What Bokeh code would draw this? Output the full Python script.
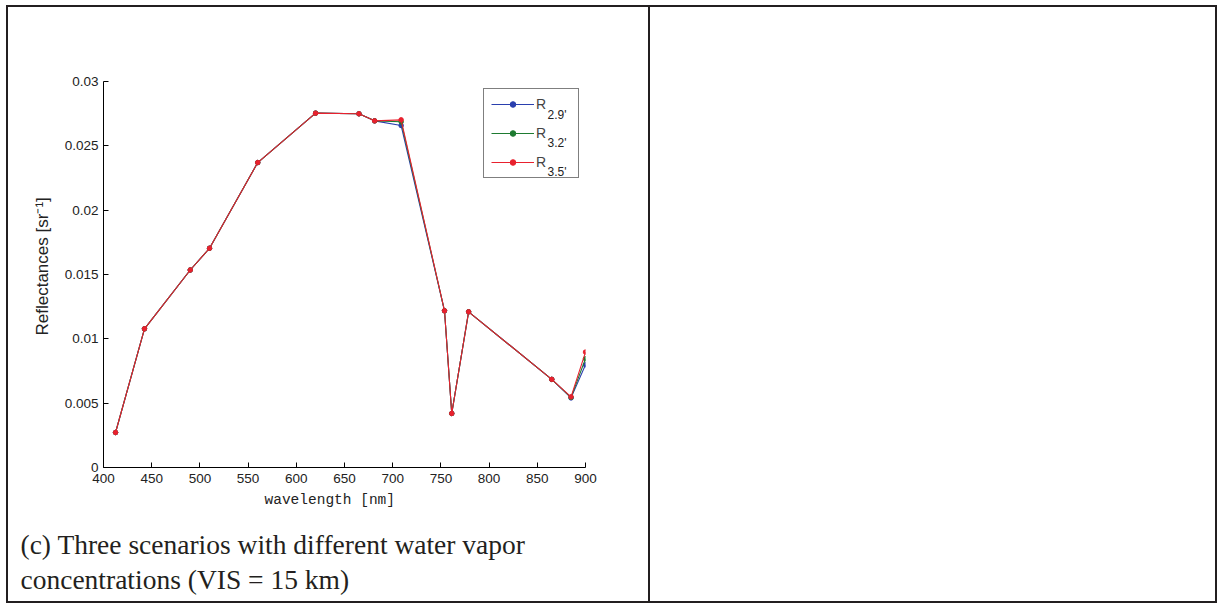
from bokeh.plotting import figure
from bokeh.models import (Range1d, FixedTicker, NumeralTickFormatter, Legend, LegendItem,
                          Label, Title)
from bokeh.embed import file_html
from bokeh.resources import INLINE

# MERIS band centres (nm)
wavelength = [412.5, 442.5, 490, 510, 560, 620, 665, 681.25, 708.75,
              753.75, 761.25, 778.75, 865, 885, 900]

# Simulated reflectances for three water vapour amounts
r_29 = [0.00272, 0.01078, 0.01535, 0.01704, 0.0237, 0.02754, 0.02749, 0.02694, 0.02658,
        0.01218, 0.0042, 0.0121, 0.00685, 0.00541, 0.00798]
r_32 = [0.00272, 0.01078, 0.01535, 0.01704, 0.0237, 0.02754, 0.02749, 0.02694, 0.02687,
        0.01218, 0.0042, 0.0121, 0.00685, 0.00545, 0.00845]
r_35 = [0.00272, 0.01078, 0.01535, 0.01704, 0.0237, 0.02754, 0.02749, 0.02694, 0.02702,
        0.01218, 0.0042, 0.0121, 0.00685, 0.00549, 0.00897]

series_values = [r_29, r_32, r_35]
series_subscripts = ["2.9'", "3.2'", "3.5'"]
series_colors = ["#2a3fae", "#1e7b31", "#e8212e"]

x_ticks = [400, 450, 500, 550, 600, 650, 700, 750, 800, 850, 900]
y_ticks = [0, 0.005, 0.01, 0.015, 0.02, 0.025, 0.03]

x_label = "wavelength [nm]"
y_label = "Reflectances [sr\u207b\u00b9]"
caption_lines = ["(c) Three scenarios with different water vapor",
                 "concentrations (VIS = 15 km)"]

W, H = 1218, 605
FL, FR, FT, FB = 103, 585, 81, 467   # plot frame edges on the page
INK = "#231f20"


def sx(cx):
    # page x -> frame-relative screen x
    return cx - FL


def sy(cy):
    # page y (downwards) -> frame-relative screen y (upwards)
    return FB - cy


def bar(x, y, w, h):
    return f"linear-gradient({INK},{INK}) {x}px {y}px / {w}px {h}px no-repeat"


# table cell rules painted as the page background behind a transparent canvas
table_bg = ", ".join([
    bar(6, 5, 1211, 2),      # top
    bar(6, 601, 1211, 2),    # bottom
    bar(6, 5, 2, 598),       # left
    bar(1215, 5, 2, 598),    # right
    bar(648, 5, 2, 598),     # cell divider
]) + ", #ffffff"

p = figure(width=W, height=H, output_backend="svg", toolbar_location=None,
           x_range=Range1d(400, 900), y_range=Range1d(0, 0.03),
           min_border_left=FL, min_border_right=W - FR,
           min_border_top=FT, min_border_bottom=H - FB,
           styles={"background": table_bg})
p.outline_line_color = None
p.grid.visible = False
p.background_fill_color = None
p.border_fill_color = None

for ax in (p.xaxis, p.yaxis):
    ax.axis_line_color = "black"
    ax.major_tick_line_color = "black"
    ax.major_tick_in = 5
    ax.major_tick_out = 0
    ax.minor_tick_line_color = None
    ax.major_label_text_font = "Liberation Sans"
    ax.major_label_text_font_size = "13.5px"
    ax.major_label_text_color = "#222222"

p.xaxis.ticker = FixedTicker(ticks=x_ticks)
p.yaxis.ticker = FixedTicker(ticks=y_ticks)
p.yaxis.formatter = NumeralTickFormatter(format="0.[000]")
p.xaxis.major_label_standoff = 6
p.yaxis.major_label_standoff = 5

# y axis title, set a little below the frame's centre
p.add_layout(Title(text=y_label, align="left", offset=132, standoff=20,
                   vertical_align="bottom", text_font="Liberation Sans",
                   text_font_size="17px", text_font_style="normal",
                   text_color="#222222"), "left")

# below the x axis: axis title, a spacer, then the two caption lines
p.add_layout(Title(text=x_label, align="left", offset=161, standoff=12,
                   vertical_align="top", text_font="Liberation Mono",
                   text_font_size="14.5px", text_font_style="normal",
                   text_color="#222222"), "below")
p.add_layout(Title(text=" ", align="left", offset=0, standoff=9,
                   text_font_size="1px"), "below")
for line, gap in zip(caption_lines, (2, 3)):
    p.add_layout(Title(text=line, align="left", offset=-83, standoff=gap,
                       vertical_align="top", text_font="Liberation Serif",
                       text_font_size="27.5px", text_font_style="normal",
                       text_color=INK), "below")

items = []
for vals, col in zip(series_values, series_colors):
    ln = p.line(wavelength, vals, line_color=col, line_width=1.1)
    sc = p.scatter(wavelength, vals, marker="circle", size=4.5,
                   fill_color=col, line_color=col)
    items.append(LegendItem(label="R", renderers=[ln, sc]))

legend = Legend(items=items, location=(sx(483), sy(178)),
                padding=7, spacing=13, glyph_width=43, glyph_height=14,
                label_height=14, label_width=35, label_standoff=2,
                label_text_font="Liberation Sans", label_text_font_size="14px",
                border_line_color="black", border_line_width=1,
                background_fill_alpha=0)
p.add_layout(legend, "center")

# subscripts next to the legend's "R"
for i, sub in enumerate(series_subscripts):
    p.add_layout(Label(x=sx(547), y=sy(114 + 28.5 * i), x_units="screen", y_units="screen",
                       text=sub, text_font="Liberation Sans", text_font_size="12px",
                       text_baseline="alphabetic", text_color="#222222", level="overlay"))

open("out.html", "w").write(file_html(p, INLINE))
